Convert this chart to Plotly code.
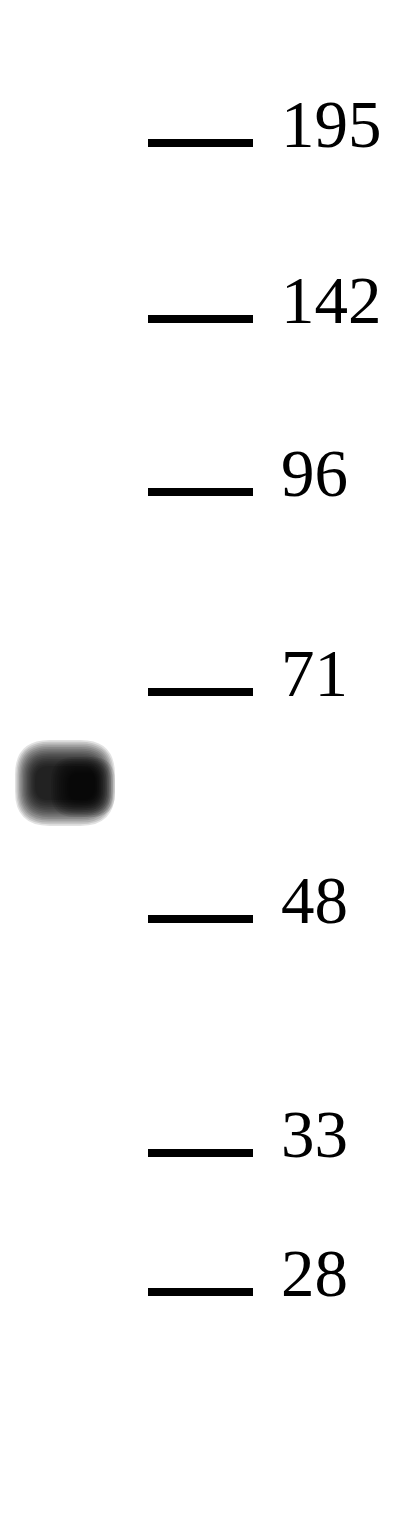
import plotly.graph_objects as go

# molecular weight ladder (kDa) and how far each marker ran down the blot
marker_kda = [195, 142, 96, 71, 48, 33, 28]
marker_migration = [143, 319, 492, 692, 919, 1153, 1292]

# the single detected band in lane 1
band_lane = [65]
band_migration = [785]

W, H = 409, 1520
ladder_x0, ladder_x1 = 148, 253
label_x = 279


def rounded_rect(x0, x1, y0, y1, r):
    # svg path for a rounded rectangle in data coords
    return (f"M {x0 + r},{y0} L {x1 - r},{y0} Q {x1},{y0} {x1},{y0 + r} "
            f"L {x1},{y1 - r} Q {x1},{y1} {x1 - r},{y1} L {x0 + r},{y1} "
            f"Q {x0},{y1} {x0},{y1 - r} L {x0},{y0 + r} Q {x0},{y0} {x0 + r},{y0} Z")


fig = go.Figure()

# ladder ticks
xs, ys = [], []
for m in marker_migration:
    xs += [ladder_x0, ladder_x1, None]
    ys += [m, m, None]
fig.add_trace(go.Scatter(x=xs, y=ys, mode="lines",
                         line=dict(color="black", width=8), hoverinfo="skip"))

for kda, m in zip(marker_kda, marker_migration):
    fig.add_annotation(x=label_x, y=m - 19, xref="x", yref="y", text=str(kda),
                       showarrow=False, xanchor="left", yanchor="middle",
                       font=dict(family="Liberation Serif", size=67, color="black"))

# band: stacked translucent layers to fake the blur
shapes = []
for bx, by in zip(band_lane, band_migration):
    n = 16
    for i in range(n):
        t = i / (n - 1)
        hw = 50 - 20 * t
        hh = 43 - 26 * t
        r = min(hw, hh) * 0.8
        shapes.append(dict(type="path", xref="x", yref="y",
                           path=rounded_rect(bx - hw, bx + hw, by - 2 - hh, by - 2 + hh, r),
                           fillcolor="rgba(0,0,0,0.115)", line=dict(width=0)))
    # darker right half of the band
    m = 10
    for i in range(m):
        t = i / (m - 1)
        hw = 32 - 18 * t
        hh = 30 - 16 * t
        shapes.append(dict(type="path", xref="x", yref="y",
                           path=rounded_rect(bx + 18 - hw, bx + 18 + hw, by + 2 - hh, by + 2 + hh, min(hw, hh) * 0.8),
                           fillcolor="rgba(0,0,0,0.1)", line=dict(width=0)))

fig.update_layout(
    width=W, height=H,
    margin=dict(l=0, r=0, t=0, b=0),
    paper_bgcolor="white", plot_bgcolor="white",
    showlegend=False,
    shapes=shapes,
    xaxis=dict(range=[0, W], visible=False, fixedrange=True),
    yaxis=dict(range=[H, 0], visible=False, fixedrange=True),
)

# browser body margin would push the blot off by 8px
fig.write_html("out.html", config={"displayModeBar": False},
               post_script="document.body.style.margin='0';")
